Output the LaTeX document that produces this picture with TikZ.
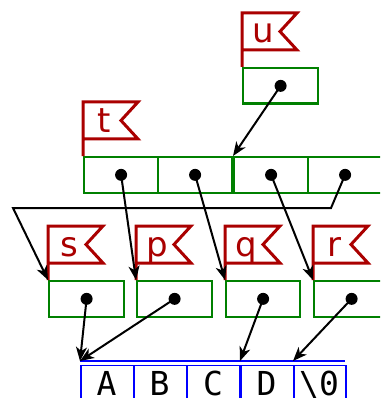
\documentclass[tikz,border=0pt]{standalone}
\usepackage{fontspec}
\setmainfont{DejaVu Sans}
\newfontfamily\monof{DejaVu Sans Mono}
\usetikzlibrary{arrows.meta,calc}
\definecolor{flagred}{HTML}{AA0000}
\definecolor{grn}{HTML}{008000}
\definecolor{blu}{HTML}{0000FF}
\newcommand\myflag[3]{%
  \draw[flagline] (#1.north west) -- ++(0,-54) -- ++(55,0) -- ++(-17,18.5) -- ++(17,18.5) -- ++(-55,0);
  \node[lbl] (#3) at ($(#1.north west)+(21.5,-24)$) {#2};}
\begin{document}
\begin{tikzpicture}[x=1pt,y=-1pt,
  cell/.style={draw=grn, line width=2.2pt, minimum width=74pt, minimum height=35.5pt, inner sep=0pt, anchor=north west},
  scell/.style={draw=blu, line width=1.8pt, minimum width=53pt, minimum height=60pt, inner sep=0pt, anchor=north west},
  ptr/.style={circle, fill=black, inner sep=0pt, minimum size=12pt},
  arr/.style={-{Stealth[length=14pt,width=11pt,inset=4pt]}, line width=2pt},
  flagline/.style={draw=flagred, line width=3pt, line join=miter},
  lbl/.style={text=flagred, font=\fontsize{34}{34}\selectfont, inner sep=0pt, anchor=base},
  chr/.style={font=\monof\fontsize{33}{33}\selectfont, inner sep=0pt, anchor=base}
]
\useasboundingbox (0,0) rectangle (380,398);
\clip (0,0) rectangle (380,398);

% u
\node[cell, minimum width=75pt] (u) at (242,67) {};
\myflag{u}{u}{ul}
\node[ptr] (ud) at (u.center) {};

% t row
\node[cell] (t1) at (83,156) {};
\node[cell] (t2) at (157,156) {};
\node[cell] (t3) at (233,156) {};
\node[cell] (t4) at (307,156) {};
\myflag{t1}{t}{tl}
\node[ptr] (t1d) at (t1.center) {};
\node[ptr] (t2d) at (t2.center) {};
\node[ptr] (t3d) at (t3.center) {};
\node[ptr] (t4d) at (t4.center) {};

% s p q r
\node[cell, minimum width=75pt] (s) at (48,280) {};
\node[cell, minimum width=75pt] (p) at (136,280) {};
\node[cell] (q) at (225,280) {};
\node[cell, minimum width=75pt] (r) at (313,280) {};
\myflag{s}{s}{sl}
\myflag{p}{p}{pl}
\myflag{q}{q}{ql}
\myflag{r}{r}{rl}
\node[ptr] (sd) at (s.center) {};
\node[ptr] (pd) at (p.center) {};
\node[ptr] (qd) at (q.center) {};
\node[ptr] (rd) at (r.center) {};

% string
\node[scell] (c1) at (80,364.5) {};
\node[scell] (c2) at (133,364.5) {};
\node[scell] (c3) at (186,364.5) {};
\node[scell] (c4) at (240,364.5) {};
\node[scell, minimum width=52pt] (c5) at (293,364.5) {};
\coordinate (l1) at (80,361);
\coordinate (l4) at (240,361);
\coordinate (l5) at (293,361);
\coordinate (le) at (345,361);
\draw[blu, line width=1.6pt] (l1) -- (le);
\node[chr] (a) at (106.5,395.5) {A};
\node[chr] (b) at (159.5,395.5) {B};
\node[chr] (c) at (213,395.5) {C};
\node[chr] (d) at (266.5,395.5) {D};
\node[chr] (z) at (319,395.5) {\textbackslash0};

% arrows
\draw[arr] (ud.center) -- (t3.north west);
\draw[arr] (t1d.center) -- (p.north west);
\draw[arr] (t2d.center) -- (q.north west);
\draw[arr] (t3d.center) -- (r.north west);
\coordinate (b1) at (331,208);
\coordinate (b2) at (13,208);
\draw[arr] (t4d.center) -- (b1) -- (b2) -- (s.north west);
\draw[arr] (sd.center) -- (l1);
\draw[arr] (pd.center) -- (l1);
\draw[arr] (qd.center) -- (l4);
\draw[arr] (rd.center) -- (l5);
\end{tikzpicture}
\end{document}
